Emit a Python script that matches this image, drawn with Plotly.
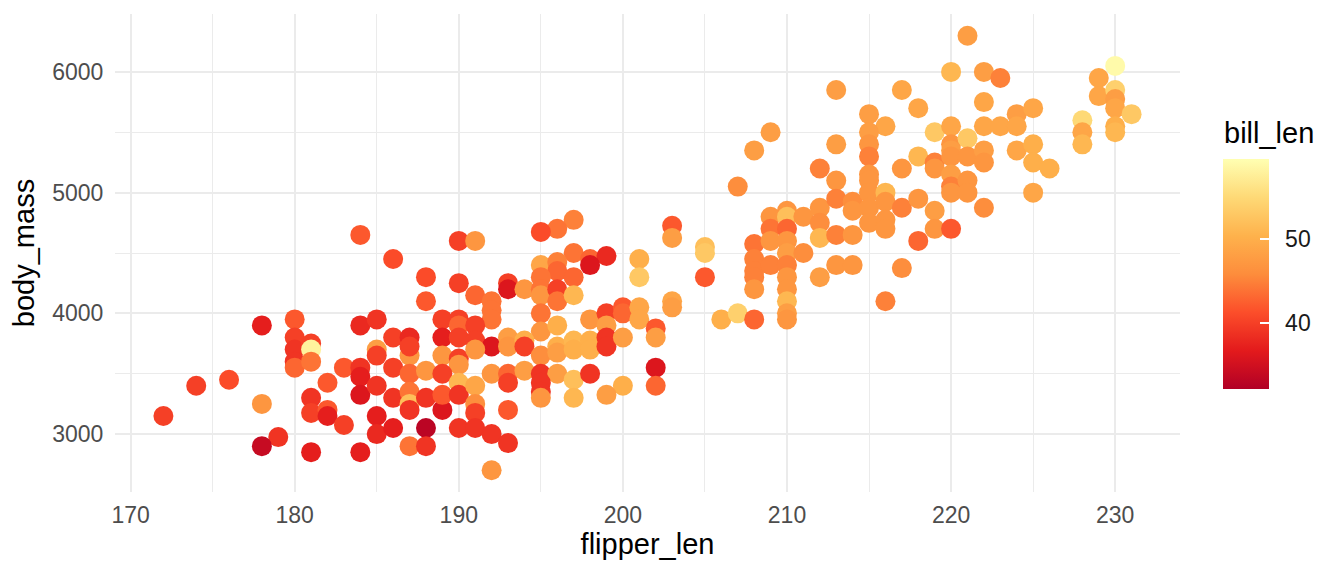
import plotly.graph_objects as go

# values (flipper_len mm, body_mass g, bill_len mm)
flipper_len = [
    184, 178, 180, 184, 185, 180, 180, 181, 181, 180, 180, 181, 185, 185, 183,
    184, 184, 184, 185, 174, 176, 182, 178, 172, 181, 181, 182, 182, 183, 185,
    185, 179, 178, 181, 184,
    197, 196, 195, 190, 191, 186, 197, 198, 199, 198, 195, 196, 196, 188, 188,
    190, 193, 193, 194, 195, 195, 195, 196, 196, 197, 197, 191, 192, 192, 192,
    189, 190, 190, 191, 195, 195, 196, 198, 199, 199, 200, 186, 187, 189, 190,
    191, 192, 193, 193, 194, 194, 195, 196, 196, 197, 197, 198, 198, 199, 199,
    187, 187, 189, 190, 190, 191, 186, 187, 188, 189, 192, 193, 194, 195, 196,
    197, 198, 200, 199, 186, 187, 187, 187, 188, 189, 189, 190, 190, 191, 191,
    191, 193, 193, 195, 195, 195, 197, 186, 188, 190, 191, 192, 193, 187, 188,
    192,
    207, 203, 203, 201, 201, 205, 205, 205, 200, 201, 201, 200, 202, 202, 203,
    203, 202, 202, 206, 207, 208,
    208, 208, 208, 208, 208, 209, 209, 209, 209, 210, 210, 210, 210, 210, 210,
    210, 210, 210, 210, 210, 211, 211, 212, 212, 212, 212, 213, 213, 213, 213,
    214, 214, 214, 214,
    221, 220, 222, 223, 230, 229, 229, 230, 230, 230, 231, 228, 228, 228, 230,
    230, 217, 218, 215, 216, 215, 215, 215, 215, 215, 215, 215, 215, 216, 216,
    216, 216, 217, 217, 217, 216, 218, 218, 218, 219, 219, 219, 219, 219, 220,
    220, 220, 220, 220, 220, 220, 220, 221, 221, 221, 221, 222, 222, 222, 222,
    222, 223, 224, 224, 224, 225, 225, 225, 225, 226,
    213, 213, 209, 208, 212,
]
body_mass = [
    4650, 3900, 3950, 3900, 3950, 3800, 3700, 3750, 3700, 3600, 3550, 3600, 3700, 3650, 3550,
    3550, 3475, 3325, 3400, 3400, 3450, 3425, 3250, 3150, 3300, 3175, 3200, 3150, 3075, 3150,
    3000, 2975, 2900, 2850, 2850,
    4775, 4700, 4675, 4600, 4600, 4450, 4500, 4450, 4475, 4400, 4400, 4425, 4350, 4300, 4100,
    4250, 4250, 4200, 4200, 4300, 4200, 4150, 4200, 4100, 4300, 4150, 4150, 4100, 4025, 3950,
    3950, 3950, 3900, 3900, 4000, 3850, 3900, 3950, 4000, 3900, 4050, 3800, 3800, 3800, 3800,
    3775, 3725, 3800, 3725, 3775, 3725, 3650, 3725, 3675, 3775, 3700, 3775, 3700, 3800, 3725,
    3650, 3725, 3650, 3625, 3575, 3700, 3550, 3500, 3525, 3500, 3500, 3500, 3525, 3500, 3500,
    3450, 3500, 3400, 3325, 3300, 3350, 3250, 3200, 3300, 3200, 3325, 3425, 3325, 3400, 3250,
    3175, 3425, 3200, 3425, 3350, 3300, 3300, 3050, 3050, 3050, 3050, 3000, 2925, 2900, 2900,
    2700,
    5050, 4725, 4625, 4450, 4300, 4550, 4500, 4300, 4000, 4050, 3950, 3800, 3875, 3800, 4100,
    4050, 3550, 3400, 3950, 4000, 3950,
    4575, 4450, 4350, 4300, 4200, 4800, 4700, 4600, 4400, 4850, 4800, 4700, 4600, 4500, 4400,
    4300, 4200, 4100, 4000, 3950, 4800, 4500, 4875, 4750, 4625, 4300, 5100, 4950, 4650, 4400,
    4925, 4850, 4650, 4400,
    6300, 6000, 6000, 5950, 6050, 5950, 5800, 5850, 5775, 5700, 5650, 5600, 5500, 5400, 5550,
    5500, 5850, 5700, 5650, 5550, 5500, 5400, 5300, 5150, 5100, 5000, 4875, 4750, 5000, 4925,
    4775, 4700, 4875, 5200, 4375, 4100, 4950, 5300, 4600, 5500, 5250, 5200, 4850, 4700, 5550,
    5400, 5350, 5300, 5150, 5050, 5000, 4700, 5450, 5300, 5100, 5000, 5750, 5550, 5350, 5250,
    4875, 5550, 5650, 5550, 5350, 5700, 5400, 5250, 5000, 5200,
    5400, 5850, 5500, 5350, 5200,
]
bill_len = [
    42, 37, 42, 38, 39, 40, 39, 40, 58, 39, 43, 44, 48, 40, 42,
    39, 37, 36, 39, 40, 41, 42, 47, 40, 39, 40, 42, 37, 40, 37,
    38, 39, 34, 37, 37,
    45, 44, 41, 40, 47, 41, 44, 43, 38, 36, 49, 45, 43, 41, 42,
    40, 40, 36, 47, 44, 44, 47, 40, 44, 43, 51, 43, 44, 44, 44,
    40, 40, 43, 40, 44, 47, 50, 47, 40, 48, 42, 40, 38, 37, 40,
    40, 36, 48, 47, 50, 40, 46, 50, 48, 51, 50, 50, 50, 39, 39,
    47, 40, 47, 40, 47, 47, 40, 43, 47, 40, 47, 43, 48, 39, 48,
    52, 39, 50, 48, 39, 44, 52, 39, 39, 36, 42, 51, 39, 49, 46,
    40, 40, 42, 39, 39, 47, 51, 37, 33, 39, 39, 39, 39, 44, 39,
    47,
    46, 42, 48, 50, 53, 52, 53, 42, 43, 49, 49, 48, 42, 48, 49,
    48, 36, 43, 50, 54, 43,
    44, 45, 45, 45, 47, 47, 44, 47, 45, 47, 52, 43, 47, 48, 45,
    47, 47, 51, 48, 47, 47, 46, 47, 46, 51, 48, 47, 45, 45, 47,
    46, 47, 47, 47,
    48, 51, 48, 45, 59, 49, 49, 54, 48, 49, 53, 55, 49, 51, 50,
    51, 49, 49, 48, 49, 48, 47, 45, 47, 47, 47, 47, 47, 51, 47,
    47, 47, 45, 47, 46, 45, 47, 51, 43, 53, 45, 47, 48, 47, 49,
    47, 48, 47, 48, 45, 47, 42, 53, 47, 47, 47, 49, 49, 48, 47,
    46, 49, 48, 49, 49, 49, 50, 50, 49, 50,
    48, 48, 48, 48, 45,
]

colorbar_ticks = [40, 50]

# ColorBrewer YlOrRd, low values dark red
ylorrd = ["#b10026", "#e31a1c", "#fc4e2a", "#fd8d3c", "#feb24c", "#fed976", "#ffffb2"]
colorscale = [[i / (len(ylorrd) - 1), c] for i, c in enumerate(ylorrd)]

fig = go.Figure(
    go.Scatter(
        x=flipper_len,
        y=body_mass,
        mode="markers",
        marker=dict(
            size=20,
            color=bill_len,
            colorscale=colorscale,
            cmin=32.1,
            cmax=59.6,
            line=dict(width=0),
            colorbar=dict(
                x=1.031, xanchor="left",
                y=0.456, yanchor="middle",
                len=250, lenmode="pixels",
                thickness=46,
                outlinewidth=0,
                tickvals=colorbar_ticks,
                # a little space pushes the labels off the bar like ggplot
                ticktext=["\u00a0\u2009" + str(t) for t in colorbar_ticks],
                ticks="inside", ticklen=9, tickcolor="white", tickwidth=1.5,
                tickfont=dict(size=23, color="#1a1a1a"),
            ),
        ),
        showlegend=False,
    )
)

grid = "#ebebeb"
fig.update_xaxes(
    range=[169.05, 233.95],
    tickvals=[170, 180, 190, 200, 210, 220, 230],
    showgrid=True, gridcolor=grid, gridwidth=2,
    minor=dict(dtick=5, tick0=165, showgrid=True, gridcolor=grid, gridwidth=1),
    zeroline=False, showline=False,
    ticks="outside", ticklen=2, tickcolor="rgba(0,0,0,0)",
    tickfont=dict(size=23, color="#4d4d4d"),
    title=dict(text="flipper_len", font=dict(size=29, color="black"), standoff=1),
)
fig.update_yaxes(
    range=[2520, 6480],
    tickvals=[3000, 4000, 5000, 6000],
    showgrid=True, gridcolor=grid, gridwidth=2,
    minor=dict(dtick=500, tick0=2500, showgrid=True, gridcolor=grid, gridwidth=1),
    zeroline=False, showline=False,
    ticks="outside", ticklen=6, tickcolor="rgba(0,0,0,0)",
    tickfont=dict(size=23, color="#4d4d4d"),
    title=dict(text="body_mass", font=dict(size=29, color="black"), standoff=10),
)

fig.add_annotation(
    text="bill_len", xref="paper", yref="paper",
    x=1.039, y=0.751, xanchor="left", yanchor="middle",
    showarrow=False, font=dict(size=29, color="black"),
)

# the page body adds an 8 px margin, so the figure is 16 px smaller than the window
fig.update_layout(
    width=1336, height=568,
    margin=dict(l=107, r=164, t=6, b=84),
    plot_bgcolor="white", paper_bgcolor="white",
    font=dict(family="Liberation Sans, Arial, sans-serif"),
)

fig.write_html("out.html")
